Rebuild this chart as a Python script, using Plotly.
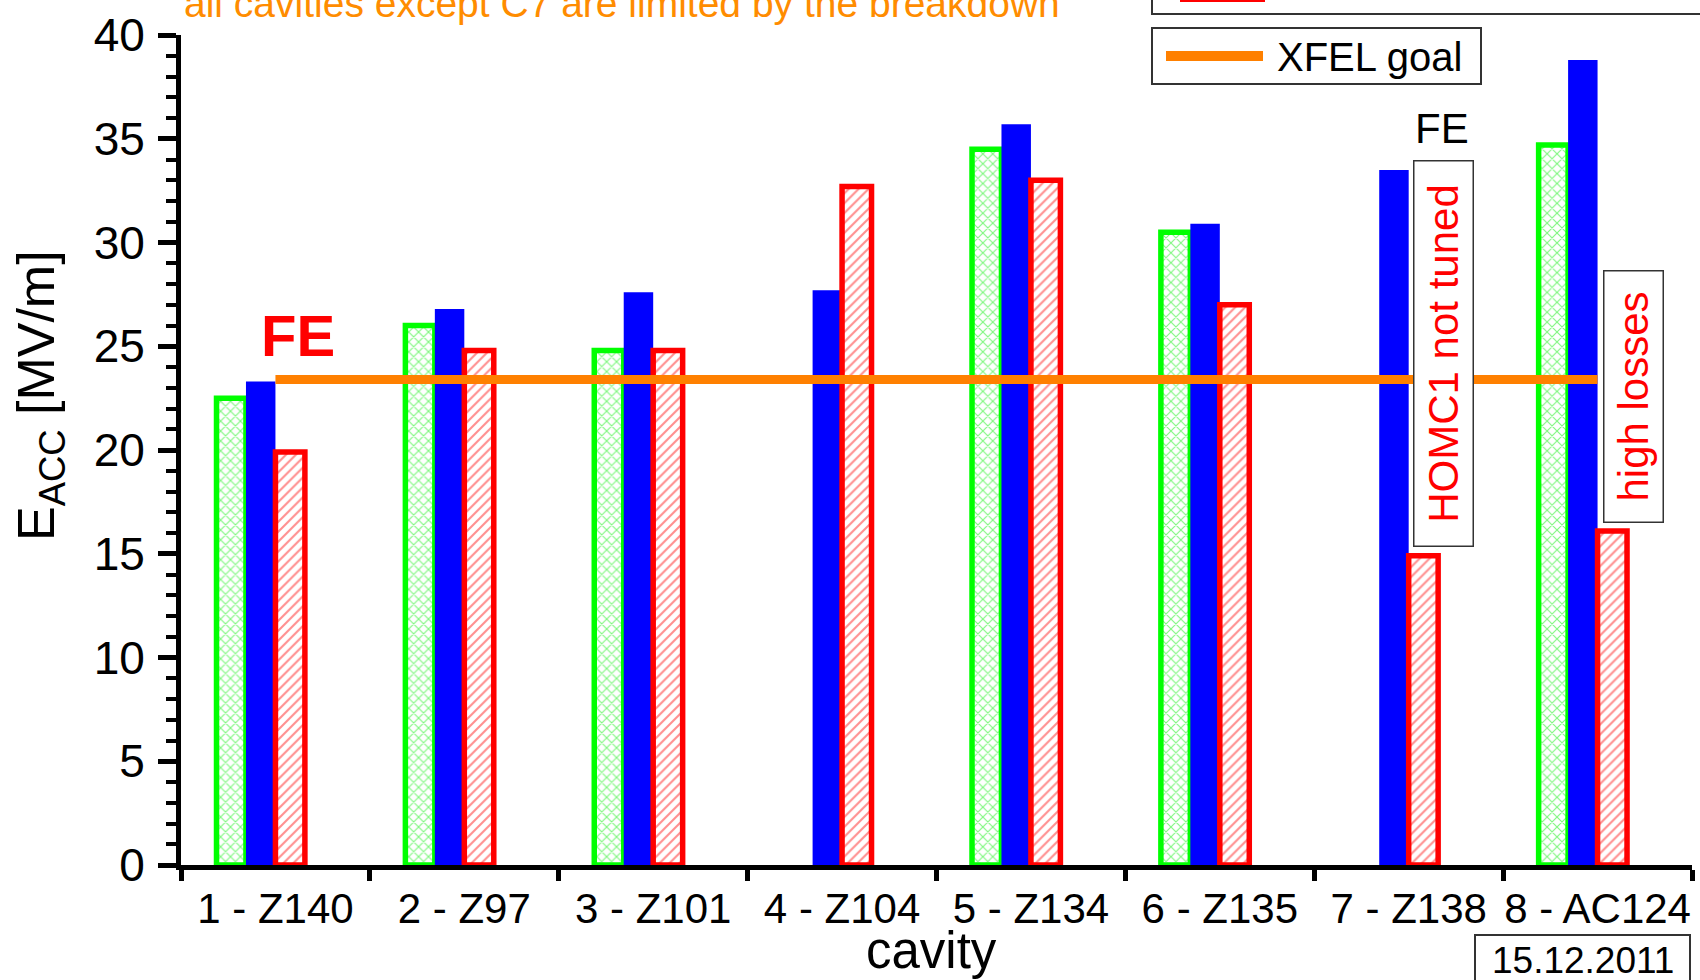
import plotly.graph_objects as go

# ---- data ----
cavities = ["1 - Z140", "2 - Z97", "3 - Z101", "4 - Z104", "5 - Z134", "6 - Z135", "7 - Z138", "8 - AC124"]
green_vals = [22.5, 26.0, 24.8, None, 34.5, 30.5, None, 34.7]
blue_vals = [23.3, 26.8, 27.6, 27.7, 35.7, 30.9, 33.5, 38.8]
red_vals = [19.9, 24.8, 24.8, 32.7, 33.0, 27.0, 14.9, 16.1]
xfel_goal = 23.4
goal_span = [cavities[0], cavities[-1]]
y_ticks = [0, 5, 10, 15, 20, 25, 30, 35, 40]

SANS = "Liberation Sans, Arial, sans-serif"

W, H = 1700, 980
L, R, T, B = 181, 8, 35, 115
PW, PH = W - L - R, H - T - B


def px(x):
    return (x - L) / PW


def py(y):
    return (H - B - y) / PH


bw = 0.156
fig = go.Figure()
fig.add_trace(go.Bar(
    x=cavities, y=green_vals, width=bw, offset=-2 * bw,
    marker=dict(color="white", line=dict(color="#00FF00", width=5.5),
                pattern=dict(shape="x", fgcolor="#00EE00", bgcolor="white", size=7, solidity=0.3, fillmode="overlay")),
    showlegend=False))
fig.add_trace(go.Bar(
    x=cavities, y=blue_vals, width=bw, offset=-bw,
    marker=dict(color="#0000FF", line=dict(width=0)), showlegend=False))
fig.add_trace(go.Bar(
    x=cavities, y=red_vals, width=bw, offset=0,
    marker=dict(color="white", line=dict(color="#FF0000", width=5.5),
                pattern=dict(shape="/", fgcolor="#FF2020", bgcolor="white", size=7, solidity=0.3, fillmode="overlay")),
    showlegend=False))
fig.add_trace(go.Scatter(
    x=goal_span, y=[xfel_goal, xfel_goal], mode="lines",
    line=dict(color="#FF8000", width=9), showlegend=False))

fig.update_layout(
    width=W, height=H,
    margin=dict(l=L, r=R, t=T, b=B, pad=0),
    paper_bgcolor="white", plot_bgcolor="white",
    barmode="overlay",
    showlegend=False,
    xaxis=dict(
        type="category", range=[-0.5, 7.5], tickson="boundaries",
        ticks="outside", ticklen=11, tickwidth=5, tickcolor="black",
        showline=True, linewidth=5, linecolor="black",
        showgrid=False, zeroline=False, automargin=False, tickangle=0,
        tickfont=dict(family=SANS, size=42, color="black"),
        ticklabelstandoff=3,
    ),
    xaxis2=dict(
        overlaying="x", anchor="y", side="bottom", type="linear",
        range=[-0.5, 7.5], tickvals=[i - 0.5 for i in range(9)],
        ticks="inside", ticklen=11, tickwidth=5, tickcolor="black",
        showticklabels=False, showline=False, showgrid=False, zeroline=False,
        automargin=False,
    ),
    yaxis=dict(
        range=[0, 40], tickvals=y_ticks,
        ticks="outside", ticklen=18, tickwidth=5, tickcolor="black",
        minor=dict(dtick=1, ticks="outside", ticklen=10, tickwidth=4, tickcolor="black"),
        showline=True, linewidth=5, linecolor="black",
        showgrid=False, zeroline=False, automargin=False,
        tickfont=dict(family=SANS, size=46, color="black"),
        ticklabelstandoff=4,
    ),
)

ann = []
# y-axis title
ann.append(dict(x=px(40), y=py(396), xref="paper", yref="paper",
                text="E<sub>ACC</sub> [MV/m]", textangle=-90, showarrow=False,
                xanchor="center", yanchor="middle",
                font=dict(family=SANS, size=52, color="black")))
# x-axis title
ann.append(dict(x=px(931), y=py(980), xref="paper", yref="paper",
                text="cavity", showarrow=False, xanchor="center", yanchor="bottom",
                borderpad=0,
                font=dict(family=SANS, size=51, color="black")))
# top note (clipped)
ann.append(dict(x=px(182), y=py(27), xref="paper", yref="paper",
                text="all cavities except C7 are limited by the breakdown", showarrow=False,
                xanchor="left", yanchor="bottom",
                font=dict(family=SANS, size=39, color="#FF8C00")))
# FE red
ann.append(dict(x=px(297.5), y=py(335.5), xref="paper", yref="paper",
                text="<b>FE</b>", showarrow=False, xanchor="center", yanchor="middle",
                font=dict(family=SANS, size=58, color="#FF0000")))
# FE black
ann.append(dict(x=px(1441.5), y=py(128.5), xref="paper", yref="paper",
                text="FE", showarrow=False, xanchor="center", yanchor="middle",
                font=dict(family=SANS, size=42, color="black")))
# HOMC1 not tuned
ann.append(dict(x=px(1443), y=py(354), xref="paper", yref="paper",
                text="HOMC1 not tuned", textangle=-90, showarrow=False,
                xanchor="center", yanchor="middle", width=384, height=58,
                bgcolor="white", bordercolor="#333333", borderwidth=1.5, borderpad=0,
                font=dict(family=SANS, size=42, color="#FF0000")))
# high losses
ann.append(dict(x=px(1633), y=py(397), xref="paper", yref="paper",
                text="high losses", textangle=-90, showarrow=False,
                xanchor="center", yanchor="middle", width=250, height=58,
                bgcolor="white", bordercolor="#333333", borderwidth=1.5, borderpad=0,
                font=dict(family=SANS, size=42, color="#FF0000")))
# date text
ann.append(dict(x=px(1583), y=py(960), xref="paper", yref="paper",
                text="15.12.2011", showarrow=False,
                xanchor="center", yanchor="middle",
                font=dict(family=SANS, size=37, color="black")))
# legend text
ann.append(dict(x=px(1275), y=py(57), xref="paper", yref="paper",
                text="XFEL goal", showarrow=False, xanchor="left", yanchor="middle",
                font=dict(family=SANS, size=40, color="black")))
fig.update_layout(annotations=ann)

shapes = []
# clipped legend box (top right)
shapes.append(dict(type="rect", xref="paper", yref="paper",
                   x0=px(1152), x1=px(1712), y0=py(14), y1=py(-60),
                   line=dict(color="#333333", width=2), fillcolor="rgba(0,0,0,0)"))
shapes.append(dict(type="line", xref="paper", yref="paper",
                   x0=px(1180), x1=px(1265), y0=py(-3), y1=py(-3),
                   line=dict(color="#FF0000", width=10)))
# XFEL goal legend box
shapes.append(dict(type="rect", xref="paper", yref="paper",
                   x0=px(1152), x1=px(1481), y0=py(84), y1=py(28),
                   line=dict(color="#333333", width=2), fillcolor="rgba(0,0,0,0)"))
shapes.append(dict(type="line", xref="paper", yref="paper",
                   x0=px(1166), x1=px(1263), y0=py(56), y1=py(56),
                   line=dict(color="#FF8000", width=10)))
# date box
shapes.append(dict(type="rect", xref="paper", yref="paper",
                   x0=px(1475), x1=px(1690), y0=py(1000), y1=py(935),
                   line=dict(color="#333333", width=2), fillcolor="rgba(0,0,0,0)"))
fig.update_layout(shapes=shapes)

fig.write_html("out.html", config={"displayModeBar": False},
               post_script="document.body.style.margin='0';document.body.style.overflow='hidden';")
